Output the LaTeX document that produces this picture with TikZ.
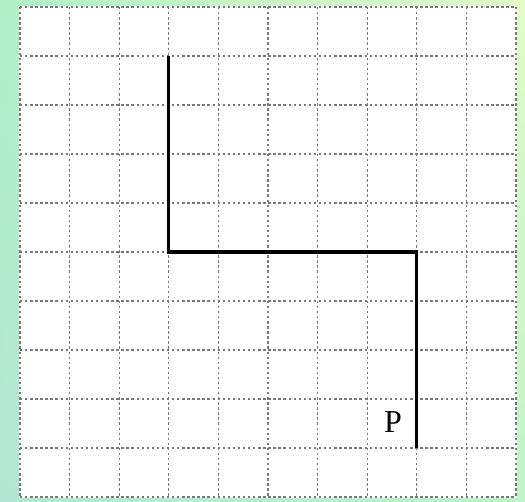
\documentclass[tikz,border=0pt]{standalone}
\usepackage{fontspec}
\newfontfamily\labelfont{Liberation Serif}
\usetikzlibrary{positioning,shadings}

\definecolor{bgTL}{RGB}{176,240,200}
\definecolor{bgTR}{RGB}{226,250,200}
\definecolor{bgBL}{RGB}{178,230,212}
\definecolor{bgBR}{RGB}{192,242,202}
\definecolor{gridgray}{RGB}{120,120,120}

\tikzset{every picture/.style={line width=0.75pt}}
\tikzset{
gridline/.style={color=gridgray, line width=1pt, dash pattern={on 1.8pt off 2pt}},
pathline/.style={line width=2.4pt, line join=miter},
plabel/.style={inner sep=0.75pt, font=\labelfont\fontsize{24}{28}\selectfont}}

\begin{document}
\begin{tikzpicture}[x=0.75pt,y=0.75pt,yscale=-1,xscale=1]
\useasboundingbox (0,0) rectangle (525,502);

%Background
\shade [upper left=bgTL, upper right=bgTR, lower left=bgBL, lower right=bgBR] (0,0) rectangle (525,502);
%Sheet
\fill [white] (19,6) rectangle (517,498);

%Grid
\foreach \i in {0,...,10} {
  \draw [gridline] (20+49.6*\i,7) -- (20+49.6*\i,497);
  \draw [gridline] (20,7+49*\i) -- (516,7+49*\i);
}

%Corners of the path
\coordinate (start) at (20+49.6*3,7+49*1);
\coordinate (bendA) at (20+49.6*3,7+49*5);
\coordinate (bendB) at (20+49.6*8,7+49*5);
\coordinate (endP) at (20+49.6*8,7+49*9);

%Path
\draw [pathline] (start) -- (bendA) -- (bendB) -- (endP);

% Text Node
\node (P) [plabel] at (393,422) {P};

\end{tikzpicture}
\end{document}
